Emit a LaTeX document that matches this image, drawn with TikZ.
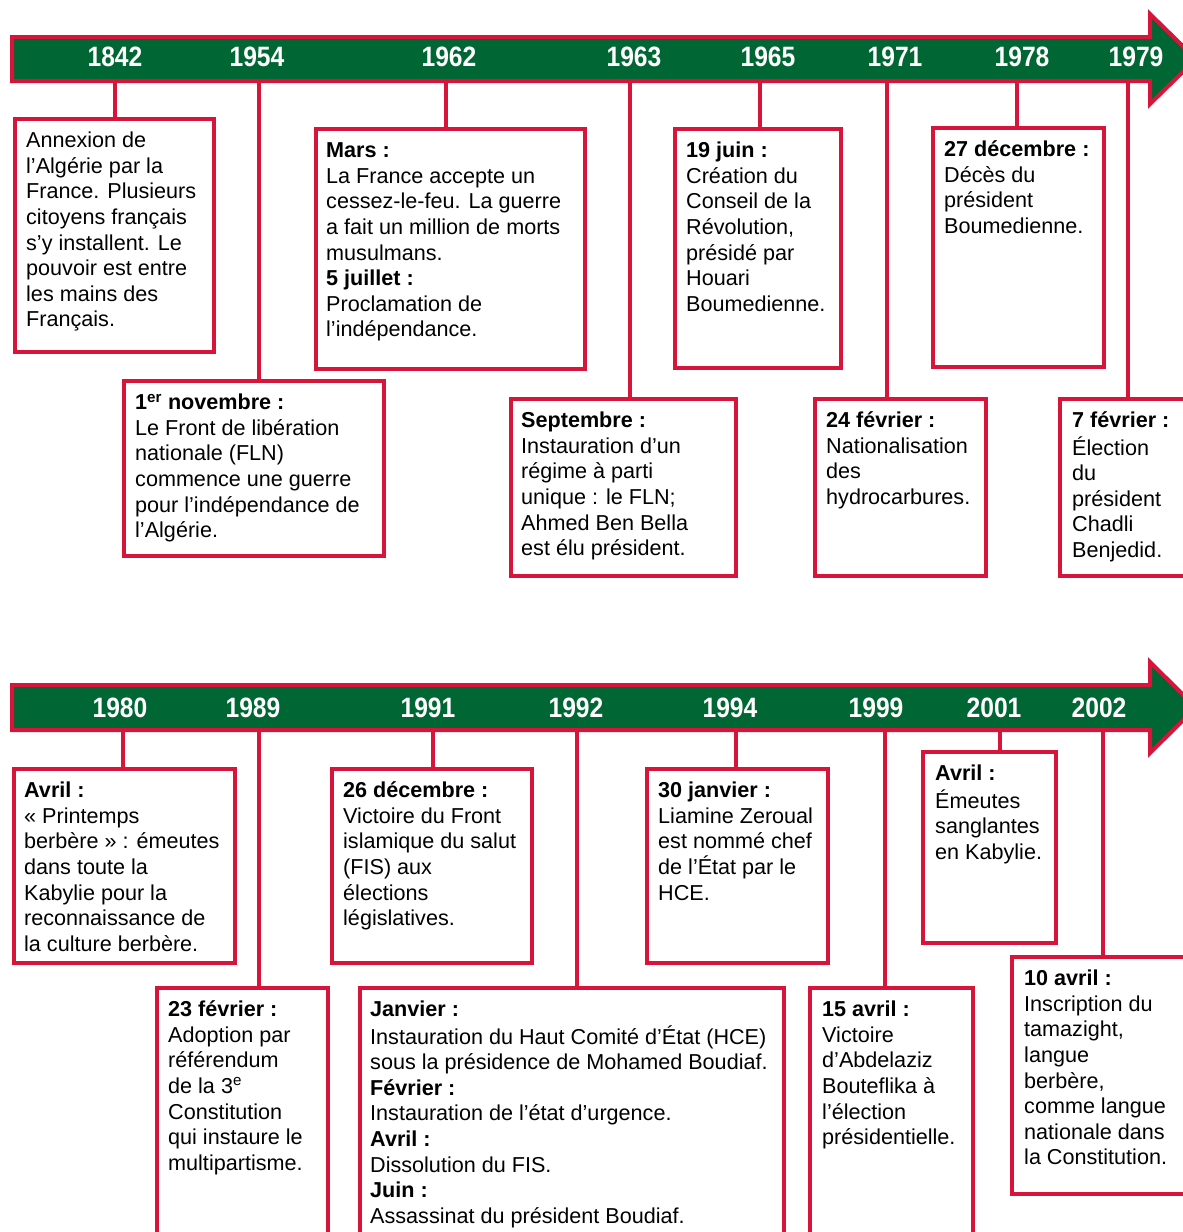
\documentclass[tikz,border=0pt]{standalone}
\usepackage{fontspec}
\setmainfont{Liberation Sans}
\newfontfamily\yearfont[FakeStretch=0.88]{Liberation Sans}
\usetikzlibrary{calc}
\definecolor{tlgreen}{RGB}{0,102,51}
\definecolor{tlred}{RGB}{215,21,58}
\tikzset{evbox/.style={draw=tlred, line width=4pt, outer sep=0pt, inner sep=0pt, anchor=north west},
  evtext/.style={anchor=north west, align=left, inner sep=0pt, font=\fontsize{21.6}{25.6}\selectfont},
  tickline/.style={draw=tlred, line width=4pt},
  yearlbl/.style={text=white, inner sep=0pt, font=\yearfont\bfseries\fontsize{28}{30}\selectfont},
  timebar/.style={fill=tlgreen, draw=tlred, line width=4pt, line join=miter}}

\begin{document}
\begin{tikzpicture}[x=1pt,y=-1pt]
    \useasboundingbox (0,0) rectangle (1183,1232);
    \clip (0,0) rectangle (1183,1232);

    % upper row of boxes
    \node[evbox, minimum width=199, minimum height=233] (b1842) at (15,119) {};
    \node[evbox, minimum width=260, minimum height=175] (b1954) at (124,381) {};
    \node[evbox, minimum width=269, minimum height=240] (b1962) at (316,129) {};
    \node[evbox, minimum width=225, minimum height=177] (b1963) at (511,399) {};
    \node[evbox, minimum width=166, minimum height=239] (b1965) at (675,129) {};
    \node[evbox, minimum width=171, minimum height=177] (b1971) at (815,399) {};
    \node[evbox, minimum width=171, minimum height=239] (b1978) at (933,128) {};
    \node[evbox, minimum width=150, minimum height=177] (b1979) at (1060,399) {};

    \node[evtext] (x1842) at ([shift={(11,10.5)}]b1842.north west) {\strut Annexion de\\l’Algérie par la\\France. Plusieurs\\citoyens français\\s’y installent. Le\\pouvoir est entre\\les mains des\\Français.};
    \node[evtext] (x1954) at ([shift={(11,10.5)}]b1954.north west) {\strut\textbf{1\textsuperscript{er} novembre :}\\Le Front de libération\\nationale (FLN)\\commence une guerre\\pour l’indépendance de\\l’Algérie.};
    \node[evtext] (x1962) at ([shift={(10,10.5)}]b1962.north west) {\strut\textbf{Mars :}\\La France accepte un\\cessez-le-feu. La guerre\\a fait un million de morts\\musulmans.\\\textbf{5 juillet :}\\Proclamation de\\l’indépendance.};
    \node[evtext] (x1963) at ([shift={(10,10.5)}]b1963.north west) {\strut\textbf{Septembre :}\\Instauration d’un\\régime à parti\\unique : le FLN;\\Ahmed Ben Bella\\est élu président.};
    \node[evtext] (x1965) at ([shift={(11,10.5)}]b1965.north west) {\strut\textbf{19 juin :}\\Création du\\Conseil de la\\Révolution,\\présidé par\\Houari\\Boumedienne.};
    \node[evtext] (x1971) at ([shift={(11,10.5)}]b1971.north west) {\strut\textbf{24 février :}\\Nationalisation\\des\\hydrocarbures.};
    \node[evtext] (x1978) at ([shift={(11,10.5)}]b1978.north west) {\strut\textbf{27 décembre :}\\Décès du\\président\\Boumedienne.};
    \node[evtext] (x1979) at ([shift={(12,10.5)}]b1979.north west) {\strut\textbf{7 février :}\\Élection\\du\\président\\Chadli\\Benjedid.};

    % lower row of boxes
    \node[evbox, minimum width=221, minimum height=194] (b1980) at (14,769) {};
    \node[evbox, minimum width=171, minimum height=270] (b1989) at (157,988) {};
    \node[evbox, minimum width=200, minimum height=194] (b1991) at (332,769) {};
    \node[evbox, minimum width=424, minimum height=270] (b1992) at (360,988) {};
    \node[evbox, minimum width=181, minimum height=194] (b1994) at (647,769) {};
    \node[evbox, minimum width=163, minimum height=270] (b1999) at (810,988) {};
    \node[evbox, minimum width=133, minimum height=191] (b2001) at (923,752) {};
    \node[evbox, minimum width=190, minimum height=237] (b2002) at (1012,957) {};

    \node[evtext] (x1980) at ([shift={(10,10.5)}]b1980.north west) {\strut\textbf{Avril :}\\« Printemps\\berbère » : émeutes\\dans toute la\\Kabylie pour la\\reconnaissance de\\la culture berbère.};
    \node[evtext] (x1989) at ([shift={(11,10.5)}]b1989.north west) {\strut\textbf{23 février :}\\Adoption par\\référendum\\de la 3\textsuperscript{e}\\Constitution\\qui instaure le\\multipartisme.};
    \node[evtext] (x1991) at ([shift={(11,10.5)}]b1991.north west) {\strut\textbf{26 décembre :}\\Victoire du Front\\islamique du salut\\(FIS) aux\\élections\\législatives.};
    \node[evtext] (x1992) at ([shift={(10,10.5)}]b1992.north west) {\strut\textbf{Janvier :}\\Instauration du Haut Comité d’État (HCE)\\sous la présidence de Mohamed Boudiaf.\\\textbf{Février :}\\Instauration de l’état d’urgence.\\\textbf{Avril :}\\Dissolution du FIS.\\\textbf{Juin :}\\Assassinat du président Boudiaf.};
    \node[evtext] (x1994) at ([shift={(11,10.5)}]b1994.north west) {\strut\textbf{30 janvier :}\\Liamine Zeroual\\est nommé chef\\de l’État par le\\HCE.};
    \node[evtext] (x1999) at ([shift={(12,10.5)}]b1999.north west) {\strut\textbf{15 avril :}\\Victoire\\d’Abdelaziz\\Bouteflika à\\l’élection\\présidentielle.};
    \node[evtext] (x2001) at ([shift={(12,10.5)}]b2001.north west) {\strut\textbf{Avril :}\\Émeutes\\sanglantes\\en Kabylie.};
    \node[evtext] (x2002) at ([shift={(12,10.5)}]b2002.north west) {\strut\textbf{10 avril :}\\Inscription du\\tamazight,\\langue\\berbère,\\comme langue\\nationale dans\\la Constitution.};

    % the two arrows
    \draw[timebar] (12,37) -- (1150,37) -- (1150,14) -- (1196,59) -- (1150,104) -- (1150,81) -- (12,81) -- cycle;
    \draw[timebar] (12,685) -- (1150,685) -- (1150,662) -- (1196,707.5) -- (1150,753) -- (1150,730) -- (12,730) -- cycle;

    \foreach \yr/\tx/\ty in {1842/115/81, 1954/259/81, 1962/446/81, 1963/630/81, 1965/760/81, 1971/887/81, 1978/1017/81, 1979/1128/81,
        1980/123/730, 1989/259/730, 1991/433/730, 1992/577/730, 1994/736/730, 1999/885/730, 2001/1000/730, 2002/1103/730}
        {\coordinate (t\yr) at (\tx,\ty);
         \draw[tickline] (t\yr) -- (t\yr |- b\yr.north);}

    \foreach \yr/\lx/\ly in {1842/115/57, 1954/257/57, 1962/449/57, 1963/634/57, 1965/768/57, 1971/895/57, 1978/1022/57, 1979/1136/57,
        1980/120/708, 1989/253/708, 1991/428/708, 1992/576/708, 1994/730/708, 1999/876/708, 2001/994/708, 2002/1099/708}
        \node[yearlbl] (y\yr) at (\lx,\ly) {\yr};
\end{tikzpicture}
\end{document}
